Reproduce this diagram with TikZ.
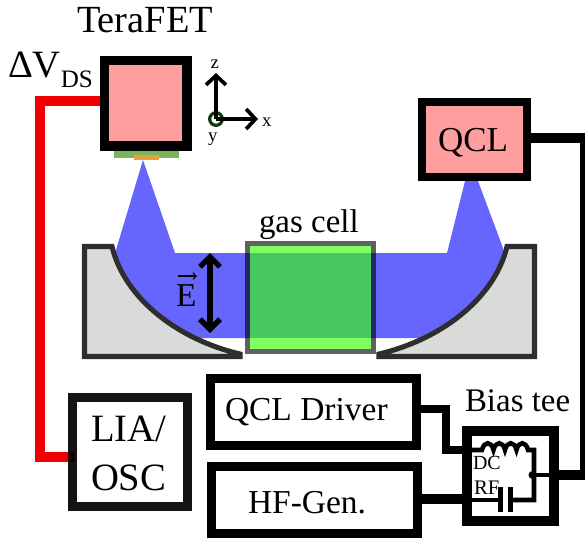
\documentclass[tikz,border=0pt]{standalone}
\usepackage{fontspec}
\setmainfont{Liberation Serif}
\usetikzlibrary{arrows.meta}
\pgfdeclarelayer{back}
\pgfsetlayers{back,main}
\definecolor{beam}{HTML}{6666FF}
\definecolor{pinkbox}{HTML}{FF9E9E}
\definecolor{mirrorfill}{HTML}{D9DBDA}
\definecolor{mirrorline}{HTML}{2E2E2E}
\definecolor{celllight}{HTML}{80FF60}
\definecolor{cellband}{HTML}{48C860}
\definecolor{chipgreen}{HTML}{7AB55C}
\definecolor{chiporange}{HTML}{E6A040}
\definecolor{redwire}{HTML}{F00000}
\definecolor{origincol}{HTML}{0A3A0A}
\tikzset{
  x=0.75pt,y=-0.75pt,
  box/.style={draw=black,inner sep=0pt,outer sep=0pt},
  lab/.style={inner sep=0pt,outer sep=0pt,anchor=base west},
  wire/.style={draw=black,line join=miter},
  inner wire/.style={draw=black,line width=3.4pt,line join=miter},
  mirror/.style={draw=mirrorline,fill=mirrorfill,line width=3.8pt,line join=miter},
  barb/.style={draw=black,line join=miter,{Straight Barb[length=7.5pt,width=15pt]}-{Straight Barb[length=7.5pt,width=15pt]}},
  barbend/.style={draw=black,-{Straight Barb[length=7pt,width=15pt]}}
}
\newcommand{\fsz}[1]{\fontsize{#1}{#1}\selectfont}
\begin{document}
\begin{tikzpicture}
\useasboundingbox (0,0) rectangle (585,540);
\begin{pgfonlayer}{back}
\fill[white] (0,0) rectangle (585,540);
\end{pgfonlayer}

% beam
\fill[beam] (143,160) -- (116,250) -- (116,338) -- (505,338) -- (503,248)
  -- (478,181) -- (465,181) -- (447,253) -- (175,253) -- cycle;

% gas cell
\fill[celllight] (250,246) rectangle (371,349);
\fill[cellband] (250,253) rectangle (371,338);
\node[draw=black,draw opacity=.62,line width=3.75pt,inner sep=0pt,outer sep=0pt,
  minimum width=94.5pt,minimum height=81pt] (cell) at (310.5,297.5) {};
\node[lab,font=\fsz{24.7}] (celllabel) at (259,232) {gas cell};

% mirrors
\path[mirror] (84.5,246.5) -- (112,246.5) .. controls (125,300) and (180,340) .. (240,354)
  -- (240,356.5) -- (84.5,356.5) -- cycle;
\path[mirror] (534.5,246.5) -- (507,246.5) .. controls (494,300) and (439,340) .. (379,354)
  -- (379,356.5) -- (534.5,356.5) -- cycle;

% TeraFET
\fill[chipgreen] (114,151) rectangle (179,158);
\fill[chiporange] (134,155) rectangle (159,160);
\node[box,fill=pinkbox,line width=7.25pt,minimum width=61.9pt,minimum height=64.2pt] (fet) at (145.6,103.35) {};
\node[lab,font=\fsz{28.8}] (fetlabel) at (77,32) {TeraFET};
\node[lab,font=\fsz{29}] (dvlabel) at (8,77) {ΔV\raisebox{-7.5pt}{\fsz{18.8}DS}};

% axes
\node[circle,draw=origincol,fill=white,line width=2.4pt,inner sep=0pt,minimum size=9.5pt] (origin) at (216,119) {};
\coordinate (zend) at (216,73);
\coordinate (xend) at (258,119);
\draw[barbend,line width=2.8pt] (origin.center) -- (zend);
\draw[barbend,line width=2.8pt] (origin.center) -- (xend);
\node[lab,font=\fsz{14}] (zlabel) at (210.5,68) {z};
\node[lab,font=\fsz{14}] (xlabel) at (262,126) {x};
\node[lab,font=\fsz{14}] (ylabel) at (208,141) {y};

% E field
\coordinate (etop) at (210,253);
\coordinate (ebot) at (210,333);
\draw[barb,line width=4pt] (etop) -- (ebot);
\node[lab,font=\fsz{25}] (elabel) at (176,306) {E};
\coordinate (evl) at (178,276);
\coordinate (evr) at (197,276);
\draw[line width=.8pt,-{Straight Barb[length=2.5pt,width=5pt]}] (evl) -- (evr);

% QCL
\node[box,fill=pinkbox,line width=6pt,minimum width=78.75pt,minimum height=56.25pt] (qcl) at (474.5,139.5) {};
\node[lab,font=\fsz{26.25}] (qcllabel) at (438,151) {QCL};

% LIA
\begin{pgfonlayer}{back}
\fill[white] (68,393) rectangle (192,511);
\end{pgfonlayer}
\node[box,draw opacity=.92,line width=6.4pt,minimum width=86.6pt,minimum height=82.1pt] (lia) at (130,452) {};
\node[lab,font=\fsz{29}] (lialabel) at (91,441) {LIA/};
\node[lab,font=\fsz{29}] (osclabel) at (91,490) {OSC};

% driver and generator
\node[box,fill=white,line width=6.75pt,minimum width=154.5pt,minimum height=50.25pt] (drv) at (313.5,412) {};
\node[lab,font=\fsz{25.1}] (drvlabel) at (225,420) {QCL Driver};
\node[box,fill=white,line width=6.75pt,minimum width=154.5pt,minimum height=50.25pt] (hf) at (314.5,500) {};
\node[lab,font=\fsz{25.1}] (hflabel) at (248,513) {HF-Gen.};

% bias tee
\node[box,fill=white,line width=7.5pt,minimum width=65.25pt,minimum height=67.5pt] (tee) at (510.5,476) {};
\node[lab,font=\fsz{24.7}] (teelabel) at (465,411) {Bias tee};

% wires
\coordinate (r1) at (40,100.5);
\coordinate (r2) at (40,457);
\coordinate (d1) at (446,409);
\coordinate (d2) at (446,450);
\coordinate (h1) at (440,499);
\coordinate (q1) at (584.5,138);
\coordinate (q2) at (584.5,475);
\begin{pgfonlayer}{back}
  \draw[draw=redwire,line width=7.5pt,line join=miter] (fet.west |- r1) -- (r1) -- (r2) -- ([xshift=2pt]lia.west |- r2);
\end{pgfonlayer}
\draw[wire,line width=6pt] (drv.east |- d1) -- (d1) -- (d2) -- (tee.west |- d2);
\draw[wire,line width=7pt] (hf.east |- h1) -- (tee.west |- h1);
\draw[wire,line width=7.5pt] (qcl.east |- q1) -- (q1) -- (q2) -- (tee.east |- q2);

% bias tee circuit
\coordinate (c0) at (482,450);
\coordinate (c1) at (493.5,450);
\coordinate (c2) at (505,450);
\coordinate (c3) at (516.5,450);
\coordinate (c4) at (528,450);
\coordinate (n1) at (534,450);
\coordinate (n2) at (534,500);
\coordinate (capl) at (500.5,500);
\coordinate (capr) at (510.5,500);
\coordinate (capltop) at (500.5,487);
\coordinate (caplbot) at (500.5,512);
\coordinate (caprtop) at (510.5,487);
\coordinate (caprbot) at (510.5,512);
\draw[inner wire] (tee.west |- c0) -- (c0)
  .. controls (484,441) and (491.5,441) .. (c1)
  .. controls (495.5,441) and (503,441) .. (c2)
  .. controls (507,441) and (514.5,441) .. (c3)
  .. controls (518.5,441) and (526,441) .. (c4)
  -- (n1) -- (n2) -- (capr);
\draw[inner wire] (tee.west |- capl) -- (capl);
\draw[draw=black,line width=3.75pt] (capltop) -- (caplbot);
\draw[draw=black,line width=3.75pt] (caprtop) -- (caprbot);
\node[circle,fill=black,inner sep=0pt,minimum size=6pt] (dot) at (532.5,475) {};
\draw[inner wire] (dot.center) -- (tee.east |- dot.center);
\node[lab,font=\fsz{15}] (dclabel) at (473,469) {DC};
\node[lab,font=\fsz{15.5}] (rflabel) at (474,494) {RF};
\end{tikzpicture}
\end{document}
